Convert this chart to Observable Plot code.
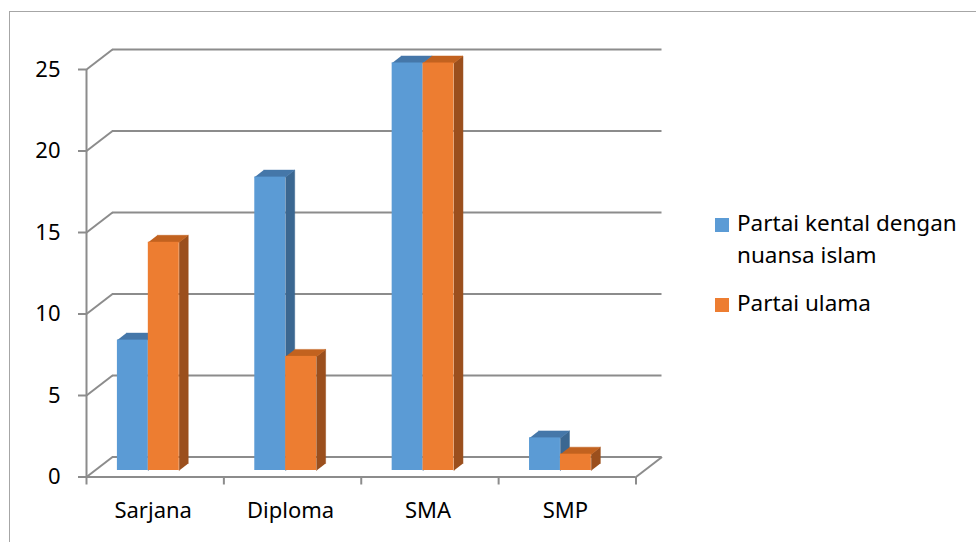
<!DOCTYPE html>
<html>
<head>
<meta charset="utf-8">
<script src="https://cdn.jsdelivr.net/npm/d3@7"></script>
<script src="https://cdn.jsdelivr.net/npm/@observablehq/plot@0.6"></script>
<style>
  html, body { margin: 0; padding: 0; background: #fff; }
  #page { position: relative; width: 976px; height: 542px; overflow: hidden; background: #fff; font-family: "Noto Sans", "Open Sans", sans-serif; }
  #frame { position: absolute; left: 9px; top: 11px; width: 1100px; height: 700px; border: 1.5px solid #a6a6a6; pointer-events: none; }
  #chart { position: absolute; left: 0; top: 0; }
  #chart svg g[aria-label^="x-axis"] line, #chart svg g[aria-label^="y-axis"] line,
  #chart svg g[aria-label="x-axis tick"] path, #chart svg g[aria-label="y-axis tick"] path,
  #chart svg g[aria-label^="x-axis"] path.domain, #chart svg g[aria-label^="y-axis"] path.domain { stroke: #8c8c8c; stroke-width: 2; }
  #legend { position: absolute; left: 715px; top: 207px; font-size: 22.5px; line-height: 32px; color: #000; }
  .item { position: relative; padding-left: 22px; width: 250px; margin-bottom: 16px; }
  .sw { position: absolute; left: 0; top: 11px; width: 14px; height: 14px; }
</style>
</head>
<body>
<div id="page">
  <div id="chart"></div>
  <div id="legend"></div>
  <div id="frame"></div>
</div>
<script>
// ---- data ----
const categories = ["Sarjana", "Diploma", "SMA", "SMP"];
const seriesNames = ["Partai kental dengan nuansa islam", "Partai ulama"];
const kental = [8, 18, 25, 2];
const ulama = [14, 7, 25, 1];
const yTicks = [0, 5, 10, 15, 20, 25];

// ---- styling ----
const frontColors = ["#5b9bd5", "#ed7d31"];
const topColors = ["#4577a9", "#c2621f"];
const sideColors = ["#3b6791", "#9b4f1d"];
const gridColor = "#8c8c8c";

// ---- layout ----
const W = 700, H = 542;
const xLeft = 86, xRight = 635.5, yZero = 476.5, yTop = 69;
const kx = 4 / (xRight - xLeft);        // data units per px (x)
const ky = 25 / (yZero - yTop);         // data units per px (y)
const wallDx = 26, wallDy = 20;         // depth of the back wall (px)
const barDx = 9, barDy = 7;             // depth of each bar (px)
const barLift = -6.5;                   // bars stand slightly behind the front edge
const barStart = 0.225, barW = 0.225;   // within each category band

const series = [kental, ulama];
const rows = series.map((vals, s) => categories.map((c, i) => ({
  id: c + s, c, i, s, v: vals[i],
  x1: i + barStart + s * barW, x2: i + barStart + (s + 1) * barW
})));

function topPoly(r) {
  const ddx = barDx * kx, ddy = barDy * ky;
  return [[r.x1, r.v], [r.x2, r.v], [r.x2 + ddx, r.v + ddy], [r.x1 + ddx, r.v + ddy]]
    .map(([x, y]) => ({id: r.id, x, y}));
}
function sidePoly(r) {
  const ddx = barDx * kx, ddy = barDy * ky;
  return [[r.x2, 0], [r.x2, r.v], [r.x2 + ddx, r.v + ddy], [r.x2 + ddx, ddy]]
    .map(([x, y]) => ({id: r.id, x, y}));
}

const barMarks = [];
for (let s = 0; s < 2; s++) {
  barMarks.push(
    Plot.line(rows[s].flatMap(sidePoly), {x: "x", y: "y", z: "id", fill: sideColors[s], stroke: sideColors[s], strokeWidth: 0.5, dy: barLift}),
    Plot.line(rows[s].flatMap(topPoly), {x: "x", y: "y", z: "id", fill: topColors[s], stroke: topColors[s], strokeWidth: 0.5, dy: barLift}),
    Plot.rectY(rows[s], {x1: "x1", x2: "x2", y1: 0, y2: "v", fill: frontColors[s], dy: barLift})
  );
}

const plot = Plot.plot({
  width: W, height: H,
  marginLeft: xLeft, marginRight: W - xRight, marginTop: yTop, marginBottom: H - yZero,
  style: {background: "transparent", fontFamily: "'Noto Sans', 'Open Sans', sans-serif", fontSize: "22px", color: "#000"},
  x: {domain: [0, 4], ticks: [0, 1, 2, 3, 4], tickSize: 8, tickFormat: () => "", label: null},
  y: {domain: [0, 25], ticks: yTicks, tickSize: 8, tickPadding: 18, label: null},
  marks: [
    // back wall gridlines
    Plot.ruleY(yTicks, {y: d => d, x1: 0, x2: 4, dx: wallDx, dy: -wallDy, stroke: gridColor, strokeWidth: 2, strokeOpacity: 1}),
    // side diagonals from the front axis to the back wall
    Plot.link(yTicks, {x1: 0, y1: d => d, x2: wallDx * kx, y2: d => d + wallDy * ky, stroke: gridColor, strokeWidth: 2}),
    // right edge of the floor
    Plot.link([0], {x1: 4, y1: 0, x2: 4 + wallDx * kx, y2: wallDy * ky, stroke: gridColor, strokeWidth: 2}),
    // front axes
    Plot.ruleX([0], {y1: 0, y2: 25, stroke: gridColor, strokeWidth: 2}),
    Plot.ruleY([0], {x1: 0, x2: 4, stroke: gridColor, strokeWidth: 2}),
    ...barMarks,
    // category labels
    Plot.text(categories, {x: (d, i) => i + 0.5, text: d => d, frameAnchor: "bottom", dx: -2, dy: 34, lineAnchor: "middle", fill: "#000", fontSize: 22})
  ]
});
document.getElementById("chart").appendChild(plot);

// legend
const legend = document.getElementById("legend");
seriesNames.forEach((name, s) => {
  const item = document.createElement("div");
  item.className = "item";
  const sw = document.createElement("span");
  sw.className = "sw";
  sw.style.background = frontColors[s];
  item.appendChild(sw);
  item.appendChild(document.createTextNode(name));
  legend.appendChild(item);
});
</script>
</body>
</html>
